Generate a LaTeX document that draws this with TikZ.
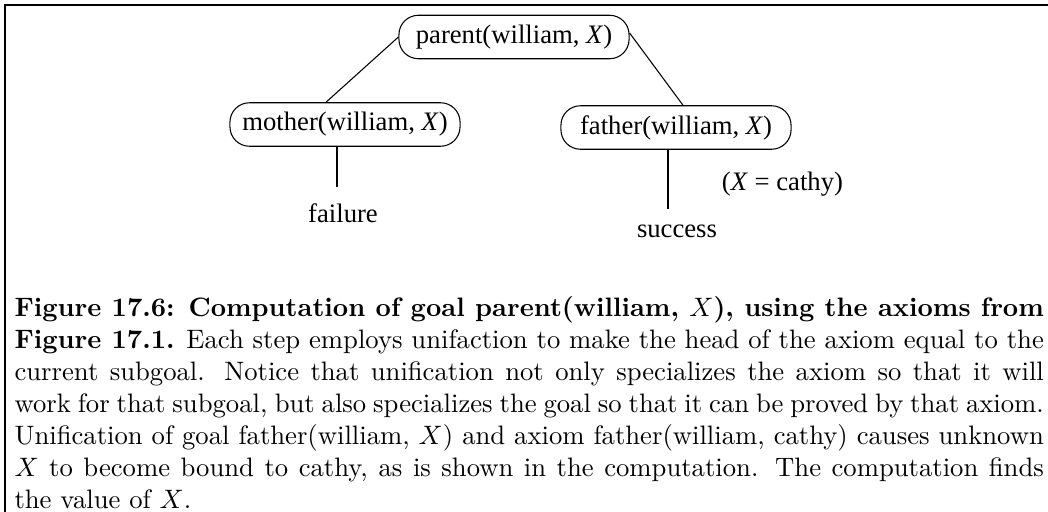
\documentclass[tikz,border=0pt]{standalone}
\usepackage{fontspec}
\usepackage{tikz}
\usetikzlibrary{positioning, calc}
\newfontfamily\treefont{Liberation Serif}
\tikzset{
  goalbox/.style={
    draw, rounded corners=7.3pt, line width=0.4pt,
    minimum width=86.3pt, minimum height=16.3pt, inner sep=0pt,
    font=\treefont\fontsize{10pt}{12pt}\selectfont
  },
  leaflabel/.style={
    anchor=base, inner sep=0pt,
    font=\treefont\fontsize{10pt}{12pt}\selectfont
  },
  treeedge/.style={line width=0.4pt},
  frameline/.style={line width=1.05pt, line join=miter},
  capbox/.style={
    anchor=base west, inner sep=0pt,
    text width=386pt, align=justify, font=\normalsize
  },
}

\begin{document}
\begin{tikzpicture}[x=0.375pt, y=-0.375pt]
  \useasboundingbox (0,0) rectangle (1048,511);
  \draw[frameline] (1060,5) -- (5,5) -- (5,520);

  \node[goalbox] (parent) at (514,37) {parent(william, \textit{X})};
  \node[goalbox] (mother) at (345,124.5) {mother(william, \textit{X})};
  \node[goalbox] (father) at (676,127.5) {father(william, \textit{X})};

  \node[leaflabel] (failure) at (343,222) {failure};
  \node[leaflabel] (success) at (677,237) {success};
  \node[leaflabel] (binding) at (782.5,190) {(\textit{X} = cathy)};

  \draw[treeedge] (parent.west) -- ($(mother.north)+(-19,0)$);
  \draw[treeedge] ($(parent.east)+(0,-4)$) -- ($(father.north)+(7,0)$);
  \draw[treeedge] ($(mother.south)+(-8,0)$) -- ($(failure.north)+(-6,-16)$);
  \draw[treeedge] ($(father.south)+(-8,0)$) -- ($(success.north)+(-9,-15)$);

  \node[capbox] (caption) at (14,316) {%
    \textbf{Figure 17.6: Computation of goal parent(william, $X$), using the axioms from
    Figure 17.1.} Each step employs unifaction to make the head of the axiom equal to the\linebreak
    current subgoal. Notice that unification not only specializes the axiom so that it will\linebreak
    {\spaceskip=0.2em plus 0.1em minus 0.05em work for that subgoal, but also specializes
    the goal so that it can be proved by that axiom.}\linebreak
    Unification of goal father(william, $X$) and axiom father(william, cathy) causes unknown\linebreak
    $X$ to become bound to cathy, as is shown in the computation. The computation finds\linebreak
    the value of $X$.};
\end{tikzpicture}
\end{document}
